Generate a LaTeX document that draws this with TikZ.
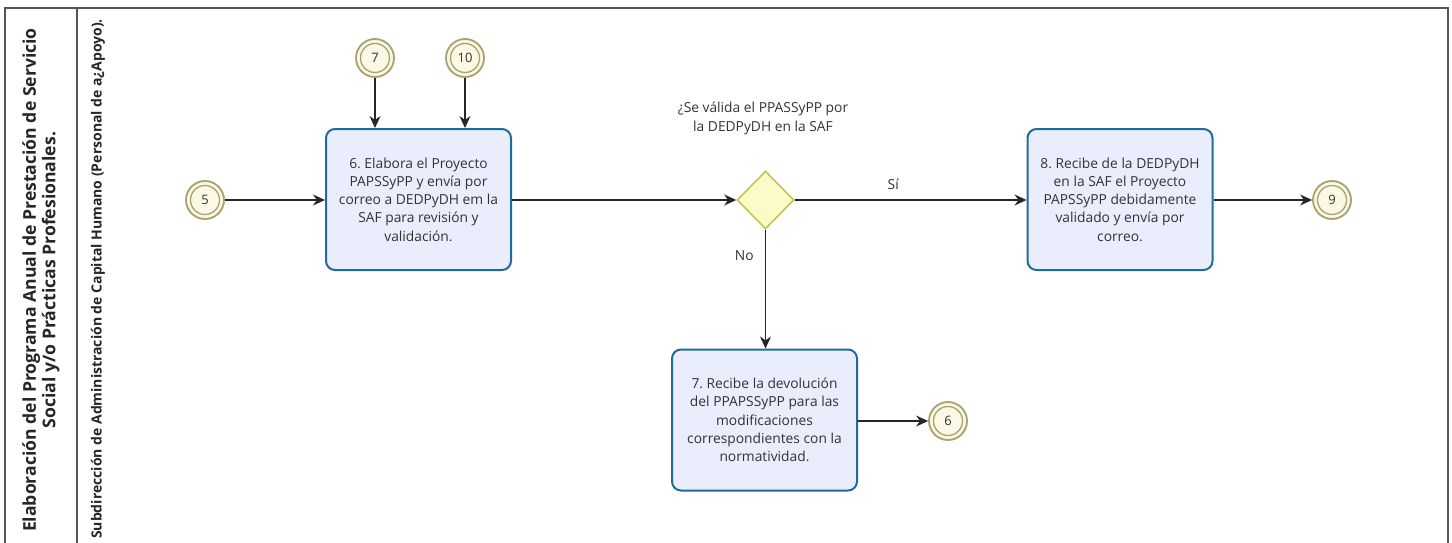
\documentclass[tikz,border=0pt]{standalone}
\usepackage{fontspec}
\setmainfont{Open Sans}
\usetikzlibrary{shapes.geometric,arrows.meta}
\definecolor{txt}{HTML}{333333}
\definecolor{taskfill}{HTML}{E9EDFC}
\definecolor{taskline}{HTML}{1F6B9C}
\definecolor{evfill}{HTML}{FBF8E6}
\definecolor{evline}{HTML}{A8A26C}
\definecolor{gwfill}{HTML}{FBFBC8}
\definecolor{gwline}{HTML}{C4C25A}
\definecolor{frame}{HTML}{555555}
\tikzset{
  task/.style={draw=taskline, fill=taskfill, line width=2pt, rounded corners=9pt,
    minimum width=185pt, minimum height=141pt, align=center, text=txt,
    font=\fontsize{13.8}{18.3}\selectfont, inner sep=0pt},
  gate/.style={diamond, draw=gwline, fill=gwfill, line width=1.6pt,
    minimum width=57pt, minimum height=58pt, inner sep=0pt},
  flow/.style={draw=black!85, line width=1.1pt, -{Stealth[length=12pt,width=11pt]}},
  lbl/.style={text=txt, font=\fontsize{13.8}{19}\selectfont, align=center},
}
\newcommand{\ev}[3]{%
  \node[circle, draw=evline, fill=evfill, line width=1.8pt, minimum size=38pt, inner sep=0pt] (#1) at #2 {};
  \draw[evline, line width=1.3pt] (#1.center) circle (14.5pt);
  \node[text=txt, font=\fontsize{13}{15}\selectfont] at (#1.center) {#3};}
\frenchspacing
\begin{document}
\begin{tikzpicture}[x=1pt,y=-1pt]
\useasboundingbox (0,0) rectangle (1452,543);
\fill[white] (0,0) rectangle (1452,543);
% pool frame
\draw[frame, line width=1.2pt] (5,543) -- (5,8) -- (1448,8) -- (1448,543);
\draw[frame, line width=1.1pt] (77,8) -- (77,543);
% pool and lane headers
\node[rotate=90, align=center, text=black!85, font=\fontsize{17.6}{19.5}\selectfont\bfseries] (pool) at (41,280)
  {Elaboración del Programa Anual de Prestación de Servicio\\Social y/o Prácticas Profesionales.};
\node[rotate=90, text=black!85, font=\fontsize{14}{15}\selectfont\bfseries] (lane) at (98,279)
  {Subdirección de Administración de Capital Humano (Personal de a¿Apoyo).};
% events
\ev{e5}{(205,200)}{5}
\ev{e7}{(375,58)}{7}
\ev{e10}{(465,58)}{10}
\ev{e9}{(1332,200)}{9}
\ev{e6}{(948,421)}{6}
% tasks
\node[task] (t6) at (418.5,199.5) {6. Elabora el Proyecto\\PAPSSyPP y envía por\\correo a DEDPyDH em la\\SAF para revisión y\\validación.};
\node[task] (t8) at (1120,199.5) {8. Recibe de la DEDPyDH\\en la SAF el Proyecto\\PAPSSyPP debidamente\\validado y envía por\\correo.};
\node[task] (t7) at (764.5,420) {7. Recibe la devolución\\del PPAPSSyPP para las\\modificaciones\\correspondientes con la\\normatividad.};
% gateway
\node[gate] (g) at (765.5,200) {};
\node[lbl] (q) at (763,118) {¿Se válida el PPASSyPP por\\la DEDPyDH en la SAF};
% flows
\draw[flow] (e5) -- (t6.west |- e5);
\draw[flow] (e7) -- (e7 |- t6.north);
\draw[flow] (e10) -- (e10 |- t6.north);
\draw[flow] (t6.east |- g) -- (g.west);
\draw[flow] (g.east) -- node[lbl, above=6pt, pos=0.425] {Sí} (t8.west |- g);
\draw[flow] (g.south) -- node[lbl, pos=0.22, left=8pt] {No} (g |- t7.north);
\draw[flow] (t8.east |- e9) -- (e9);
\draw[flow] (t7.east |- e6) -- (e6);
\end{tikzpicture}
\end{document}
